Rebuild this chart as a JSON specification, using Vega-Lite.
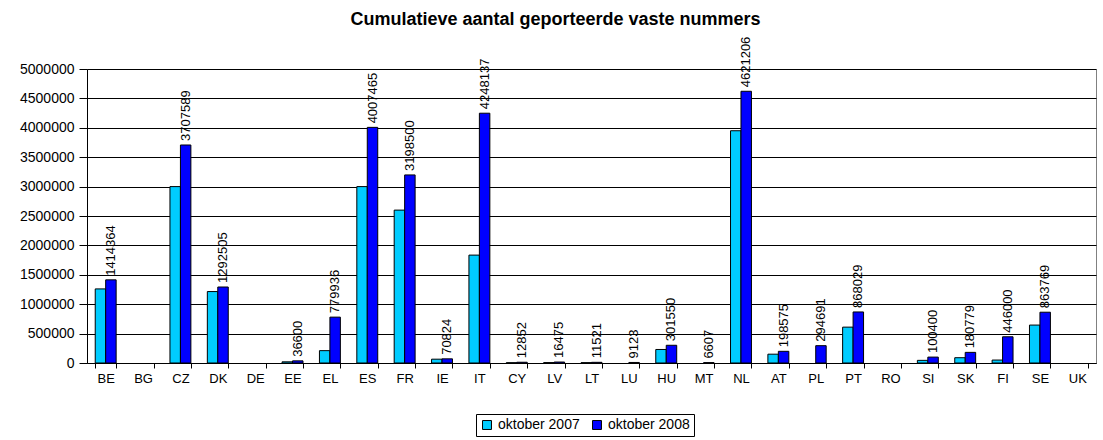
{
  "$schema": "https://vega.github.io/schema/vega-lite/v6.json",
  "autosize": "none",
  "width": 1009,
  "height": 294,
  "padding": {"left": 87, "top": 69, "right": 7, "bottom": 77},
  "background": "white",
  "title": {"text": "Cumulatieve aantal geporteerde vaste nummers", "font": "Liberation Sans", "fontSize": 18, "fontWeight": "bold", "color": "black", "anchor": "middle", "dx": -36, "offset": 8},
  "config": {
    "font": "Liberation Sans",
    "view": {"stroke": "#808080", "strokeWidth": 1},
    "axis": {"labelFont": "Liberation Sans", "labelColor": "black", "domainColor": "black", "tickColor": "black", "titleFont": "Liberation Sans"}
  },
  "data": {"values": [
    {"country": "BE", "period": "oktober 2007", "value": 1260000},
    {"country": "BE", "period": "oktober 2008", "value": 1414364},
    {"country": "BG", "period": "oktober 2007", "value": null},
    {"country": "BG", "period": "oktober 2008", "value": null},
    {"country": "CZ", "period": "oktober 2007", "value": 3000000},
    {"country": "CZ", "period": "oktober 2008", "value": 3707589},
    {"country": "DK", "period": "oktober 2007", "value": 1215000},
    {"country": "DK", "period": "oktober 2008", "value": 1292505},
    {"country": "DE", "period": "oktober 2007", "value": null},
    {"country": "DE", "period": "oktober 2008", "value": null},
    {"country": "EE", "period": "oktober 2007", "value": 20000},
    {"country": "EE", "period": "oktober 2008", "value": 36600},
    {"country": "EL", "period": "oktober 2007", "value": 210000},
    {"country": "EL", "period": "oktober 2008", "value": 779936},
    {"country": "ES", "period": "oktober 2007", "value": 3000000},
    {"country": "ES", "period": "oktober 2008", "value": 4007465},
    {"country": "FR", "period": "oktober 2007", "value": 2600000},
    {"country": "FR", "period": "oktober 2008", "value": 3198500},
    {"country": "IE", "period": "oktober 2007", "value": 65000},
    {"country": "IE", "period": "oktober 2008", "value": 70824},
    {"country": "IT", "period": "oktober 2007", "value": 1835000},
    {"country": "IT", "period": "oktober 2008", "value": 4248137},
    {"country": "CY", "period": "oktober 2007", "value": 5000},
    {"country": "CY", "period": "oktober 2008", "value": 12852},
    {"country": "LV", "period": "oktober 2007", "value": 7000},
    {"country": "LV", "period": "oktober 2008", "value": 16475},
    {"country": "LT", "period": "oktober 2007", "value": 6000},
    {"country": "LT", "period": "oktober 2008", "value": 11521},
    {"country": "LU", "period": "oktober 2007", "value": null},
    {"country": "LU", "period": "oktober 2008", "value": 9123},
    {"country": "HU", "period": "oktober 2007", "value": 230000},
    {"country": "HU", "period": "oktober 2008", "value": 301550},
    {"country": "MT", "period": "oktober 2007", "value": null},
    {"country": "MT", "period": "oktober 2008", "value": 6607},
    {"country": "NL", "period": "oktober 2007", "value": 3950000},
    {"country": "NL", "period": "oktober 2008", "value": 4621206},
    {"country": "AT", "period": "oktober 2007", "value": 150000},
    {"country": "AT", "period": "oktober 2008", "value": 198575},
    {"country": "PL", "period": "oktober 2007", "value": null},
    {"country": "PL", "period": "oktober 2008", "value": 294691},
    {"country": "PT", "period": "oktober 2007", "value": 610000},
    {"country": "PT", "period": "oktober 2008", "value": 868029},
    {"country": "RO", "period": "oktober 2007", "value": null},
    {"country": "RO", "period": "oktober 2008", "value": null},
    {"country": "SI", "period": "oktober 2007", "value": 45000},
    {"country": "SI", "period": "oktober 2008", "value": 100400},
    {"country": "SK", "period": "oktober 2007", "value": 90000},
    {"country": "SK", "period": "oktober 2008", "value": 180779},
    {"country": "FI", "period": "oktober 2007", "value": 50000},
    {"country": "FI", "period": "oktober 2008", "value": 446000},
    {"country": "SE", "period": "oktober 2007", "value": 645000},
    {"country": "SE", "period": "oktober 2008", "value": 863769},
    {"country": "UK", "period": "oktober 2007", "value": null},
    {"country": "UK", "period": "oktober 2008", "value": null}
  ]},
  "encoding": {
    "x": {"field": "country", "type": "nominal",
      "scale": {"domain": ["BE","BG","CZ","DK","DE","EE","EL","ES","FR","IE","IT","CY","LV","LT","LU","HU","MT","NL","AT","PL","PT","RO","SI","SK","FI","SE","UK"], "paddingInner": 0.44, "paddingOuter": 0.22},
      "axis": {"title": null, "labelAngle": 0, "labelFontSize": 13, "tickBand": "extent", "ticks": true, "tickSize": 5, "labelPadding": 4, "domainColor": "black"}},
    "xOffset": {"field": "period", "type": "nominal", "scale": {"domain": ["oktober 2007", "oktober 2008"]}},
    "y": {"field": "value", "type": "quantitative",
      "scale": {"domain": [0, 5000000], "nice": false},
      "axis": {"title": null, "labelFontSize": 14, "values": [0,500000,1000000,1500000,2000000,2500000,3000000,3500000,4000000,4500000,5000000], "format": "d", "gridColor": "black", "gridOpacity": 1, "tickSize": 8, "labelPadding": 5, "domain": true}}
  },
  "layer": [
    {
      "mark": {"type": "bar", "stroke": "black", "strokeWidth": 1},
      "encoding": {
        "color": {"field": "period", "type": "nominal",
          "scale": {"domain": ["oktober 2007", "oktober 2008"], "range": ["#00CCFF", "#0000FF"]},
          "legend": {"title": null, "orient": "none", "legendX": 389, "legendY": 345, "direction": "horizontal", "symbolType": "square", "symbolSize": 80, "symbolStrokeColor": "black", "symbolStrokeWidth": 1, "symbolOpacity": 1, "labelFontSize": 14, "labelFont": "Liberation Sans", "labelColor": "black", "strokeColor": "black", "padding": 4, "columnPadding": 10, "labelOffset": 4}}
      }
    },
    {
      "transform": [{"filter": "datum.period == 'oktober 2008' && datum.value != null"}],
      "mark": {"type": "text", "angle": 270, "align": "left", "baseline": "middle", "dx": 4, "fontSize": 13, "font": "Liberation Sans", "color": "black", "clip": false},
      "encoding": {"text": {"field": "value", "type": "quantitative", "format": "d"}}
    }
  ]
}
